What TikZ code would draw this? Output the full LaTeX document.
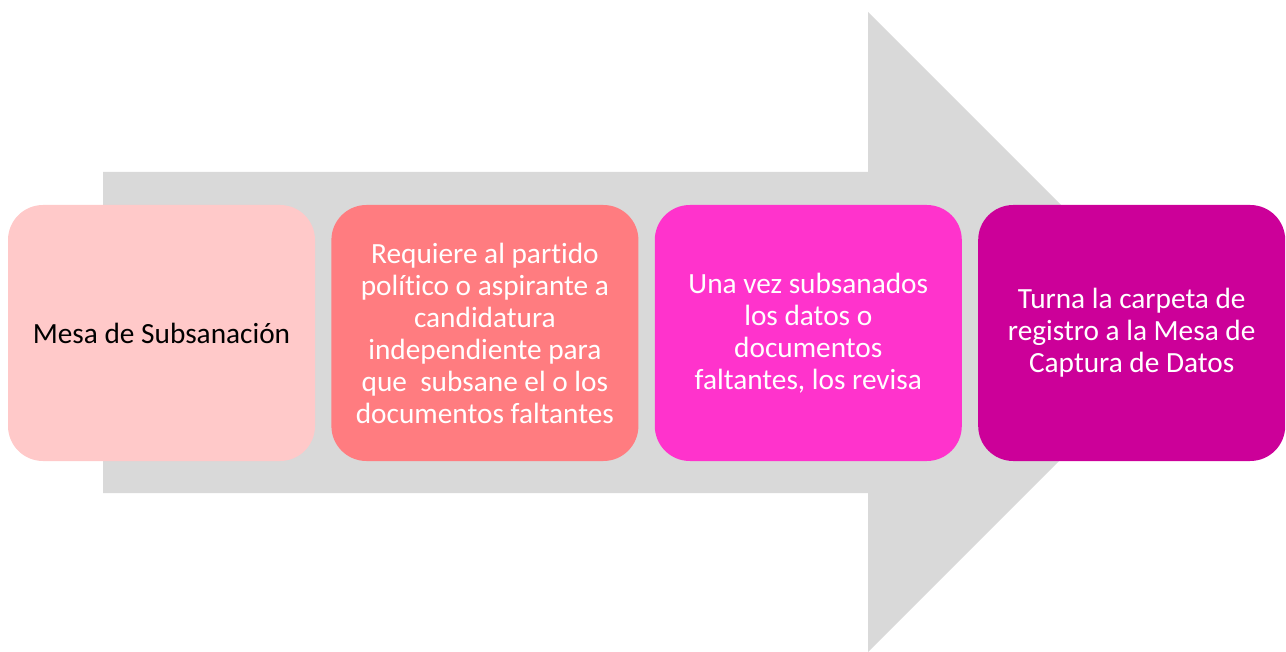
\documentclass[tikz,border=0pt]{standalone}
\usepackage{fontspec}
\setmainfont[Ligatures=NoCommon]{Carlito}
\usepackage{tikz}
\usetikzlibrary{positioning}

\definecolor{flecha}{HTML}{D9D9D9}
\definecolor{rosaA}{HTML}{FFC9C9}
\definecolor{rosaB}{HTML}{FF7C80}
\definecolor{rosaC}{HTML}{FF33CC}
\definecolor{rosaD}{HTML}{CC0099}

\tikzset{
  stepbox/.style={rounded corners=35pt, minimum width=307pt, minimum height=256pt,
    inner sep=0pt, align=center, text=white,
    font=\fontsize{29.3}{32}\selectfont},
}

\begin{document}
\begin{tikzpicture}[x=1pt,y=-1pt]
        \useasboundingbox (0,0) rectangle (1286,652);

        % big arrow behind
        \fill [flecha] (103,172) -- (868,172) -- (868,12) -- (1188,332)
              -- (868,652) -- (868,493) -- (103,493) -- cycle;

        \node (mesa) [stepbox,fill=rosaA,text=black] at (161.5,333) {Mesa de Subsanación};
        \node (requiere) [stepbox,fill=rosaB,right=16pt of mesa] {Requiere al partido\\político o aspirante a\\candidatura\\independiente para\\que~ subsane el o los\\documentos faltantes};
        \node (revisa) [stepbox,fill=rosaC,right=16pt of requiere] {Una vez subsanados\\los datos o\\documentos\\faltantes, los revisa};
        \node (turna) [stepbox,fill=rosaD,right=16pt of revisa] {Turna la carpeta de\\registro a la Mesa de\\Captura de Datos};
\end{tikzpicture}
\end{document}
